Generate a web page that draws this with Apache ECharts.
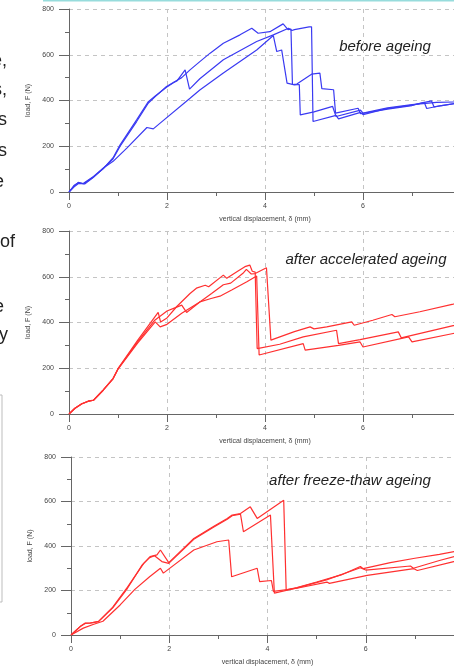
<!DOCTYPE html>
<html><head><meta charset="utf-8">
<script src="https://cdn.jsdelivr.net/npm/echarts/dist/echarts.min.js"></script>
<style>html,body{margin:0;padding:0;background:#fff}#c{width:454px;height:668px}</style>
</head><body><div id="c"></div>
<script>
// ---- axis settings ----
const xMin = 0, xMax = 8, xStep = 2;
const yMin = 0, yMax = 800, yStep = 200;
const xName = 'vertical displacement, δ (mm)';
const yName = 'load, F (N)';
const panelTitles = ['before ageing', 'after accelerated ageing', 'after freeze-thaw ageing'];
const sideFragments = ['e,', 's,', 's', 's', 'e', 'of', 'e', 'y'];

// ---- before ageing (blue) ----
const beforeT = [[0,0],[0.1,25],[0.19,42],[0.29,37],[0.5,68],[0.71,106],[0.9,145],[1.04,199],[1.38,308],[1.62,389],[1.76,417],[1.99,461],[2.13,479],[2.3,500],[2.47,534],[2.67,570],[2.88,607],[3.15,650],[3.49,687],[3.73,716],[3.86,694],[4.1,701],[4.37,735],[4.47,710],[4.53,712],[4.56,470],[4.65,472],[4.95,515],[5.12,520],[5.16,452],[5.4,447],[5.44,345],[5.9,366],[5.95,342],[6.5,362],[7.0,378],[7.25,392],[7.3,365],[7.6,378],[8,390]];
const beforeM = [[0,0],[0.1,28],[0.19,40],[0.3,36],[0.5,66],[0.71,104],[0.9,150],[1.04,205],[1.38,315],[1.62,395],[1.76,420],[1.99,458],[2.13,478],[2.2,485],[2.37,534],[2.46,450],[2.67,495],[3.15,578],[3.83,658],[4.17,687],[4.48,716],[4.55,706],[4.6,710],[4.9,722],[4.95,722],[4.98,308],[5.45,335],[5.5,320],[5.95,348],[6.0,338],[6.5,365],[7.0,380],[7.4,398],[7.45,372],[7.9,388],[8,390]];
const beforeL = [[0,0],[0.1,22],[0.2,38],[0.32,35],[0.5,64],[0.71,106],[0.9,134],[1.18,192],[1.59,282],[1.72,276],[1.86,301],[2.47,410],[2.67,446],[3.15,520],[3.83,621],[4.17,684],[4.24,614],[4.34,621],[4.45,476],[4.6,468],[4.7,470],[4.72,337],[5.0,350],[5.38,374],[5.45,330],[5.95,358],[6.0,345],[6.5,368],[7.0,382],[7.5,392],[8,394]];

// ---- after accelerated ageing (red) ----
const accelA = [[0,0],[0.12,25],[0.26,45],[0.39,56],[0.5,60],[0.7,105],[0.9,155],[1.0,198],[1.4,322],[1.82,444],[1.87,402],[2.0,420],[2.2,470],[2.47,527],[2.6,550],[2.78,563],[2.85,556],[3.15,607],[3.22,593],[3.45,625],[3.59,644],[3.69,651],[3.74,624],[3.8,620],[3.84,286],[4.3,305],[4.78,337],[5.46,366],[5.5,308],[5.94,325],[6.72,359],[6.78,333],[7.84,386],[8,392]];
const accelB = [[0,0],[0.12,24],[0.26,44],[0.39,55],[0.5,60],[0.7,104],[0.9,154],[1.0,196],[1.4,310],[1.76,403],[1.86,381],[2.0,392],[2.3,440],[2.67,490],[2.9,505],[3.08,515],[3.32,542],[3.63,578],[3.83,603],[3.88,258],[4.78,308],[4.82,279],[5.5,300],[5.94,315],[6.0,293],[6.93,337],[7.0,315],[7.84,352],[8,356]];
const accelC = [[0,0],[0.12,25],[0.26,45],[0.39,56],[0.5,61],[0.7,105],[0.9,156],[1.0,197],[1.4,315],[1.75,410],[2.0,450],[2.16,464],[2.3,476],[2.4,444],[2.67,490],[2.91,527],[3.15,565],[3.3,572],[3.55,615],[3.62,632],[3.72,612],[3.8,614],[4.03,639],[4.12,323],[4.6,360],[4.92,381],[5.0,372],[5.26,381],[5.77,403],[5.82,388],[6.2,410],[6.59,435],[6.65,425],[7.16,447],[7.84,480],[8,488]];

// ---- after freeze-thaw ageing (red) ----
const freezeA = [[0,0],[0.19,39],[0.29,54],[0.39,54],[0.56,61],[0.85,125],[1.15,215],[1.48,322],[1.61,352],[1.75,360],[1.82,382],[1.99,325],[2.5,434],[2.9,488],[3.18,524],[3.28,539],[3.45,546],[3.65,576],[3.79,524],[4.33,606],[4.38,203],[4.6,213],[5.0,238],[5.5,270],[5.89,308],[5.95,298],[6.5,325],[7.0,345],[7.5,362],[7.8,375],[8,380]];
const freezeB = [[0,0],[0.19,38],[0.29,52],[0.39,53],[0.56,60],[0.85,122],[1.15,210],[1.45,315],[1.6,348],[1.7,356],[1.85,330],[1.99,322],[2.5,430],[2.9,484],[3.18,520],[3.28,536],[3.45,543],[3.51,464],[4.06,539],[4.14,188],[4.6,212],[5.2,248],[5.89,302],[6.0,292],[6.91,310],[6.97,300],[7.5,335],[7.8,352],[8,358]];
const freezeC = [[0,0],[0.25,31],[0.45,47],[0.65,62],[1.0,135],[1.3,205],[1.6,262],[1.82,300],[1.88,278],[2.5,382],[2.97,419],[3.21,427],[3.27,262],[3.79,300],[3.84,240],[4.08,245],[4.12,196],[4.6,210],[5.21,238],[5.26,232],[6.03,268],[6.98,298],[7.05,290],[7.79,330],[8,336]];

const panels = [
  {series:[beforeT, beforeM, beforeL], color:'#3a3af2'},
  {series:[accelA, accelB, accelC], color:'#ff3030'},
  {series:[freezeA, freezeB, freezeC], color:'#ff3030'}
];

const grids = [
  {left:69, top:9, width:392, height:183, outerBoundsMode:'none', containLabel:false},
  {left:69, top:231, width:392, height:183, outerBoundsMode:'none', containLabel:false},
  {left:71, top:457, width:393, height:178, outerBoundsMode:'none', containLabel:false}
];
const titlePos = [[385,47],[366,260],[350,481]];
const fragPos = [[-8,61],[-7,90],[-2,120],[-2,151],[-6,182],[0,242],[-6,307],[-1,335]];

const font = 'Liberation Sans, Arial, sans-serif';
const axisCol = '#666';
const txtCol = '#444';

const xAxes = [], yAxes = [], series = [];
grids.forEach((g, i) => {
  xAxes.push({
    gridIndex:i, type:'value', min:xMin, max:xMax, interval:xStep,
    axisLine:{show:true, onZero:false, lineStyle:{color:axisCol, width:1}},
    axisTick:{show:true, length:8, lineStyle:{color:axisCol}},
    minorTick:{show:true, splitNumber:2, length:4, lineStyle:{color:axisCol}},
    axisLabel:{fontSize:7, color:txtCol, margin:11, fontFamily:font},
    splitLine:{show:true, lineStyle:{type:[4,4], color:'#c4c4c4', width:1}},
    name:xName, nameLocation:'middle', nameGap:24,
    nameTextStyle:{fontSize:7, color:txtCol, fontFamily:font}
  });
  yAxes.push({
    gridIndex:i, type:'value', min:yMin, max:yMax, interval:yStep,
    axisLine:{show:true, onZero:false, lineStyle:{color:axisCol, width:1}},
    axisTick:{show:true, length:10, lineStyle:{color:axisCol}},
    minorTick:{show:true, splitNumber:2, length:4, lineStyle:{color:axisCol}},
    axisLabel:{fontSize:7, color:txtCol, margin:15, fontFamily:font},
    splitLine:{show:true, lineStyle:{type:[4,4], color:'#c4c4c4', width:1}},
    name:yName, nameLocation:'middle', nameGap:32, nameRotate:90,
    nameTextStyle:{fontSize:7, color:txtCol, fontFamily:font}
  });
  panels[i].series.forEach((d) => {
    series.push({
      type:'line', xAxisIndex:i, yAxisIndex:i, data:d,
      showSymbol:false, symbol:'none', smooth:false, clip:true,
      lineStyle:{color:panels[i].color, width:1.2}, silent:true
    });
  });
});

const graphics = [
  {type:'line', shape:{x1:43, y1:0.5, x2:454, y2:0.5}, style:{stroke:'#97dcdc', lineWidth:2}},
  {type:'rect', shape:{x:-50, y:395, width:52, height:207}, style:{fill:'none', stroke:'#bdbdbd', lineWidth:1}}
];
panelTitles.forEach((t, i) => {
  graphics.push({type:'text', x:titlePos[i][0], y:titlePos[i][1],
    style:{text:t, font:'italic 15px ' + font, fill:'#222', textAlign:'center', textVerticalAlign:'middle'}});
});
sideFragments.forEach((t, i) => {
  graphics.push({type:'text', x:fragPos[i][0], y:fragPos[i][1],
    style:{text:t, font:'18px ' + font, fill:'#222', textAlign:'left', textVerticalAlign:'middle'}});
});

const chart = echarts.init(document.getElementById('c'), null, {renderer:'canvas'});
chart.setOption({
  animation:false,
  backgroundColor:'#fff',
  grid:grids,
  xAxis:xAxes,
  yAxis:yAxes,
  series:series,
  graphic:graphics
});
</script></body></html>
